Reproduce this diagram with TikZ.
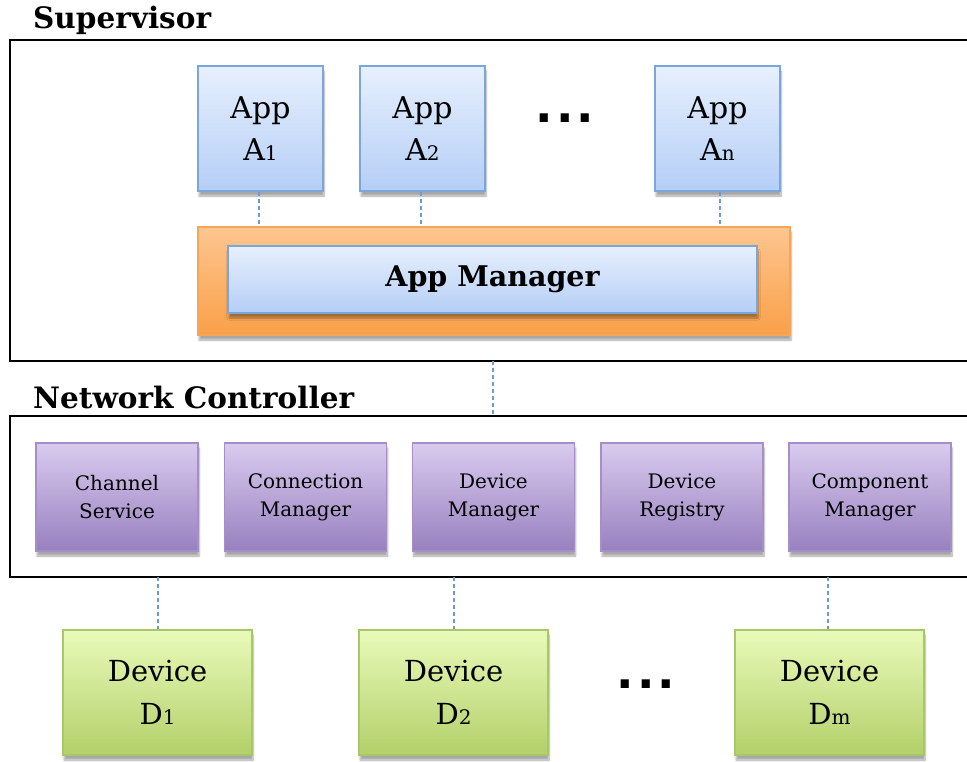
\documentclass[tikz,border=0pt]{standalone}
\usepackage{fontspec}
\setmainfont{DejaVu Serif}
\newfontfamily\dotfont{DejaVu Sans}
\usetikzlibrary{shadows.blur}

\definecolor{appTop}{HTML}{E7F0FD}
\definecolor{appBot}{HTML}{B5CEF6}
\definecolor{appLine}{HTML}{7AA6DC}
\definecolor{mgrTop}{HTML}{FDC690}
\definecolor{mgrBot}{HTML}{F9A048}
\definecolor{mgrLine}{HTML}{F5A65C}
\definecolor{ncTop}{HTML}{D9CBEF}
\definecolor{ncBot}{HTML}{9880BF}
\definecolor{ncLine}{HTML}{A48FC8}
\definecolor{devTop}{HTML}{E8FAB9}
\definecolor{devBot}{HTML}{B3D06A}
\definecolor{devLine}{HTML}{A8C76A}
\definecolor{linkCol}{HTML}{6A9BD3}

\tikzset{
  px/.style={x=1pt,y=-1pt},
  boxshadow/.style={blur shadow={shadow xshift=1pt,shadow yshift=-5pt,shadow blur steps=6,shadow opacity=35}},
  shadedbox/.style={rectangle,inner sep=0pt,align=center,line width=1.2pt,boxshadow},
  appbox/.style={shadedbox,draw=appLine,top color=appTop,bottom color=appBot,
    minimum width=125pt,minimum height=125pt,font=\fontsize{30}{42}\selectfont},
  ncbox/.style={shadedbox,draw=ncLine,top color=ncTop,bottom color=ncBot,
    minimum width=162pt,minimum height=108pt,font=\fontsize{20}{28}\selectfont},
  devbox/.style={shadedbox,draw=devLine,top color=devTop,bottom color=devBot,
    minimum width=189pt,minimum height=125pt,font=\fontsize{29}{43}\selectfont},
  frame/.style={draw=black,line width=2.6pt},
  title/.style={anchor=west,inner sep=0pt,font=\bfseries\fontsize{29.5}{33}\selectfont},
  link/.style={draw=linkCol,line width=1.8pt,dash pattern=on 4pt off 3pt},
  dots/.style={inner sep=0pt,font=\dotfont\bfseries\fontsize{46}{50}\selectfont},
}
\newcommand{\subs}[1]{{\fontsize{20}{20}\selectfont #1}}

\begin{document}
\begin{tikzpicture}[px]
\clip (0,0) rectangle (967,761);
\useasboundingbox (0,0) rectangle (967,761);

% layer frames
\node[title] (suplabel) at (33,20) {Supervisor};
\draw[frame] (10,40) rectangle (980,361);
\coordinate (supbot) at (493,361);

\node[title] (nclabel) at (33,397) {Network Controller};
\draw[frame] (10,416) rectangle (980,577);
\coordinate (nctop) at (493,416);

% applications
\node[appbox] (a1) at (260.5,128.5) {App\\A\subs{1}};
\node[appbox] (a2) at (422.5,128.5) {App\\A\subs{2}};
\node[appbox] (an) at (717.5,128.5) {App\\A\subs{n}};
\node[dots] (adots) at (565,118) {.\kern3pt.\kern3pt.};

% app manager
\node[shadedbox,draw=mgrLine,top color=mgrTop,bottom color=mgrBot,
  minimum width=592pt,minimum height=108pt] (mgr) at (494,281) {};
\node[shadedbox,draw=appLine,top color=appTop,bottom color=appBot,
  minimum width=529pt,minimum height=67pt,font=\bfseries\fontsize{28.5}{32}\selectfont]
  (appmgr) at (492.5,279.5) {App Manager};

% network controller components
\node[ncbox] (chan) at (117,497) {Channel\\Service};
\node[ncbox] (conn) at (305.5,497) {Connection\\Manager};
\node[ncbox] (devm) at (493.5,497) {Device\\Manager};
\node[ncbox] (reg)  at (682,497) {Device\\Registry};
\node[ncbox] (comp) at (870,497) {Component\\Manager};

% devices
\node[devbox] (d1) at (157.5,692.5) {Device\\D\subs{1}};
\node[devbox] (d2) at (453.5,692.5) {Device\\D\subs{2}};
\node[devbox] (dm) at (829.5,692.5) {Device\\D\subs{m}};
\node[dots] (ddots) at (646,684) {.\kern3pt.\kern3pt.};

% dashed links
\coordinate (ncbot1) at (158,577);
\coordinate (ncbot2) at (454,577);
\coordinate (ncbotm) at (828,577);
\draw[link] (a1.south -| 259,0) -- (mgr.north -| 259,0);
\draw[link] (a2.south -| 421,0) -- (mgr.north -| 421,0);
\draw[link] (an.south -| 720,0) -- (mgr.north -| 720,0);
\draw[link] (supbot) -- (nctop);
\draw[link] (ncbot1) -- (d1.north -| ncbot1);
\draw[link] (ncbot2) -- (d2.north -| ncbot2);
\draw[link] (ncbotm) -- (dm.north -| ncbotm);
\end{tikzpicture}
\end{document}
